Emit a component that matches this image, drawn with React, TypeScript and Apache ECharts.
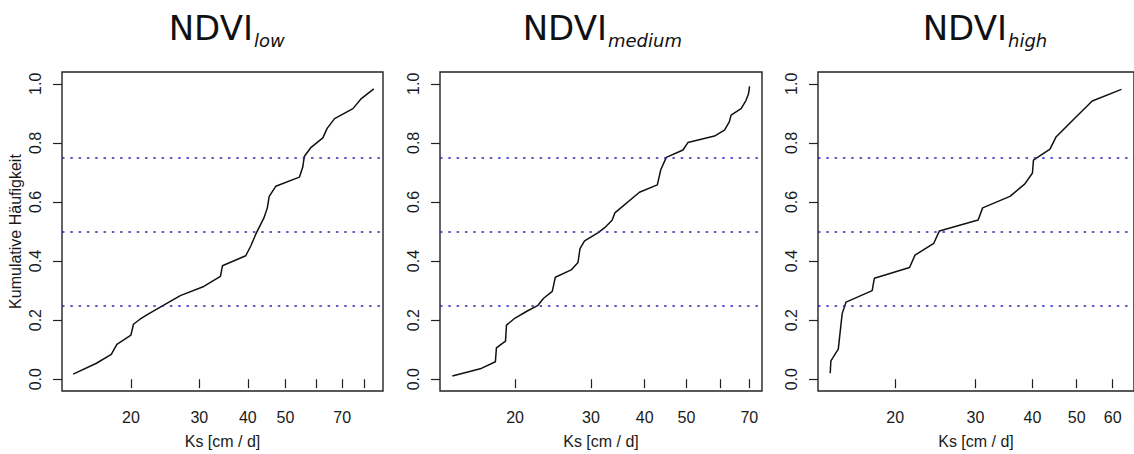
import React, { useEffect, useRef } from "react";
import * as echarts from "echarts";

// ---- data (Ks in cm/d, cumulative frequency) ----
const ksLow = [14.2, 16.3, 17.8, 18.4, 20.0, 20.3, 21.1, 22.2, 23.8, 26.8, 30.8, 34.0, 34.4, 39.5, 40.7, 41.9, 44.0, 44.9, 45.4, 47.2, 54.3, 55.4, 55.9, 58.2, 62.4, 64.0, 66.9, 74.6, 78.4, 84.4];
const cumLow = [0.017, 0.054, 0.084, 0.118, 0.149, 0.186, 0.203, 0.221, 0.244, 0.283, 0.314, 0.348, 0.384, 0.418, 0.451, 0.49, 0.546, 0.58, 0.619, 0.653, 0.684, 0.718, 0.754, 0.785, 0.817, 0.849, 0.882, 0.916, 0.95, 0.983];

const ksMedium = [14.3, 16.6, 18.0, 18.1, 19.0, 19.1, 20.0, 21.3, 22.6, 23.3, 24.4, 24.8, 27.0, 28.0, 28.3, 29.0, 31.2, 32.3, 33.6, 34.1, 38.9, 42.8, 43.6, 44.9, 49.1, 50.4, 58.1, 61.3, 62.9, 63.5, 67.0, 68.8, 69.7, 70.1];
const cumMedium = [0.011, 0.035, 0.059, 0.106, 0.129, 0.183, 0.207, 0.23, 0.25, 0.274, 0.297, 0.345, 0.37, 0.395, 0.442, 0.468, 0.496, 0.513, 0.538, 0.563, 0.633, 0.658, 0.709, 0.751, 0.776, 0.801, 0.823, 0.843, 0.871, 0.894, 0.916, 0.944, 0.966, 0.991];

const ksHigh = [14.4, 14.45, 15.0, 15.2, 15.3, 15.6, 17.8, 18.0, 21.5, 22.1, 24.3, 25.0, 30.4, 31.1, 35.7, 38.5, 40.0, 40.2, 43.7, 45.1, 49.4, 54.1, 62.7];
const cumHigh = [0.02, 0.062, 0.102, 0.183, 0.222, 0.261, 0.3, 0.342, 0.378, 0.42, 0.46, 0.502, 0.539, 0.58, 0.619, 0.661, 0.698, 0.742, 0.779, 0.821, 0.882, 0.942, 0.981];

const quartiles = [0.25, 0.5, 0.75];
const yTicks = [0, 0.2, 0.4, 0.6, 0.8, 1.0];

const xTicksLow = [20, 30, 40, 50, 60, 70, 80];
const xLabelsLow = [20, 30, 40, 50, 70];
const xTicksMedium = [20, 30, 40, 50, 60, 70];
const xLabelsMedium = [20, 30, 40, 50, 70];
const xTicksHigh = [20, 30, 40, 50, 60];
const xLabelsHigh = [20, 30, 40, 50, 60];

const titles = ["low", "medium", "high"];
const xName = "Ks [cm / d]";
const yName = "Kumulative Häufigkeit";

// ---- layout ----
const panels = [
  { left: 62, right: 751, xMin: 1.1235, xMax: 1.9501, junction: 253 },
  { left: 440, right: 372, xMin: 1.1266, xMax: 1.8746, junction: 607 },
  { left: 818, right: -6, xMin: 1.1316, xMax: 1.8248, junction: 1007 },
];
const GRID_TOP = 72;
const GRID_BOTTOM = 62;
const FONT = "'Liberation Sans', Arial, Helvetica, sans-serif";
const TXT = "#1a1a1a";

const lg = (v: number) => Math.log10(v);

export default function App() {
  const ref = useRef<HTMLDivElement>(null);

  useEffect(() => {
    if (!ref.current) return;
    const chart = echarts.init(ref.current, null, { renderer: "svg" });

    const ksSets = [ksLow, ksMedium, ksHigh];
    const cumSets = [cumLow, cumMedium, cumHigh];
    const tickSets = [xTicksLow, xTicksMedium, xTicksHigh];
    const labelSets = [xLabelsLow, xLabelsMedium, xLabelsHigh];

    const grid = panels.map((p) => ({
      left: p.left,
      right: p.right,
      top: GRID_TOP,
      bottom: GRID_BOTTOM,
      show: true,
      borderColor: "#222",
      borderWidth: 1.4,
      backgroundColor: "transparent",
    }));

    const xAxis = panels.map((p, i) => ({
      type: "value",
      gridIndex: i,
      min: p.xMin,
      max: p.xMax,
      name: xName,
      nameLocation: "middle",
      nameGap: 42,
      nameTextStyle: { fontFamily: FONT, fontSize: 16, color: TXT },
      axisLine: { show: false },
      splitLine: { show: false },
      axisTick: {
        show: true,
        inside: false,
        length: 9,
        customValues: tickSets[i].map(lg),
        lineStyle: { color: "#222", width: 1.2 },
      },
      axisLabel: {
        show: true,
        margin: 18,
        customValues: labelSets[i].map(lg),
        formatter: (v: number) => String(Math.round(Math.pow(10, v))),
        fontFamily: FONT,
        fontSize: 16,
        color: TXT,
      },
    }));

    const yAxis = panels.map((p, i) => ({
      type: "value",
      gridIndex: i,
      min: -0.04,
      max: 1.04,
      name: i === 0 ? yName : "",
      nameLocation: "middle",
      nameGap: 39,
      nameRotate: 90,
      nameTextStyle: { fontFamily: FONT, fontSize: 16, color: TXT },
      axisLine: { show: false },
      splitLine: { show: false },
      axisTick: {
        show: true,
        inside: false,
        length: 9,
        customValues: yTicks,
        lineStyle: { color: "#222", width: 1.2 },
      },
      axisLabel: {
        show: true,
        rotate: 90,
        margin: 19,
        customValues: yTicks,
        formatter: (v: number) => v.toFixed(1),
        fontFamily: FONT,
        fontSize: 16,
        color: TXT,
      },
    }));

    const series = panels.map((p, i) => ({
      type: "line",
      xAxisIndex: i,
      yAxisIndex: i,
      data: ksSets[i].map((k, j) => [lg(k), cumSets[i][j]]),
      showSymbol: false,
      symbol: "none",
      lineStyle: { color: "#111", width: 1.5 },
      silent: true,
      markLine: {
        silent: true,
        symbol: ["none", "none"],
        label: { show: false },
        lineStyle: { color: "#2a2ab4", width: 1.5, type: [2.5, 5.8] },
        data: quartiles.map((q) => ({ yAxis: q })),
      },
    }));

    const graphic: any[] = [];
    panels.forEach((p, i) => {
      graphic.push({
        type: "text",
        x: p.junction,
        y: 28,
        style: {
          text: "NDVI",
          fontFamily: "'DejaVu Sans', Verdana, sans-serif",
          fontSize: 34,
          fill: "#111",
          align: "right",
          verticalAlign: "middle",
        },
      });
      graphic.push({
        type: "text",
        x: p.junction + 1,
        y: 40,
        style: {
          text: titles[i],
          fontFamily: "'DejaVu Sans', Verdana, sans-serif",
          fontSize: 18,
          fontStyle: "italic",
          fill: "#111",
          align: "left",
          verticalAlign: "middle",
        },
      });
    });

    chart.setOption({
      animation: false,
      backgroundColor: "#ffffff",
      grid,
      xAxis,
      yAxis,
      series,
      graphic,
    } as any);

    return () => chart.dispose();
  }, []);

  return (
    <div
      ref={ref}
      style={{ position: "fixed", left: 0, top: 0, width: 1134, height: 454, background: "#fff" }}
    />
  );
}
